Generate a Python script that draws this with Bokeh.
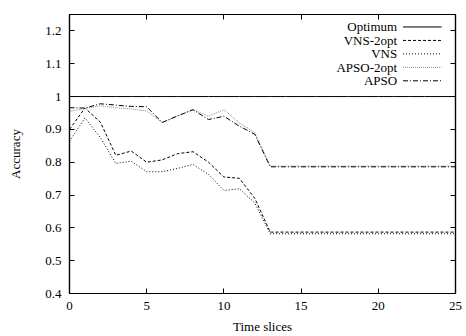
from bokeh.plotting import figure
from bokeh.models import Range1d, LinearAxis, FixedTicker, Label, Arrow
from bokeh.embed import file_html
from bokeh.resources import INLINE

# ---- data ----
time_slices = list(range(26))
optimum = [1.0, 1.0, 1.0, 1.0, 1.0, 1.0, 1.0, 1.0, 1.0, 1.0, 1.0, 1.0, 1.0,
           1.0, 1.0, 1.0, 1.0, 1.0, 1.0, 1.0, 1.0, 1.0, 1.0, 1.0, 1.0, 1.0]
vns_2opt = [0.900, 0.965, 0.922, 0.821, 0.834, 0.800, 0.807, 0.826, 0.832, 0.800,
            0.755, 0.751, 0.690, 0.587, 0.587, 0.587, 0.587, 0.587, 0.587, 0.587,
            0.587, 0.587, 0.587, 0.587, 0.587, 0.587]
vns = [0.864, 0.935, 0.875, 0.796, 0.803, 0.771, 0.771, 0.781, 0.793, 0.763,
       0.714, 0.719, 0.676, 0.582, 0.582, 0.582, 0.582, 0.582, 0.582, 0.582,
       0.582, 0.582, 0.582, 0.582, 0.582, 0.582]
apso_2opt = [0.955, 0.963, 0.972, 0.966, 0.962, 0.956, 0.921, 0.941, 0.960, 0.940,
             0.960, 0.920, 0.890, 0.788, 0.788, 0.788, 0.788, 0.788, 0.788, 0.788,
             0.788, 0.788, 0.788, 0.788, 0.788, 0.788]
apso = [0.966, 0.965, 0.978, 0.974, 0.970, 0.969, 0.921, 0.941, 0.960, 0.930,
        0.940, 0.910, 0.885, 0.786, 0.786, 0.786, 0.786, 0.786, 0.786, 0.786,
        0.786, 0.786, 0.786, 0.786, 0.786, 0.786]
series_names = ["Optimum", "VNS-2opt", "VNS", "APSO-2opt", "APSO"]
x_ticks = [0, 5, 10, 15, 20, 25]
y_ticks = [0.4, 0.5, 0.6, 0.7, 0.8, 0.9, 1.0, 1.1, 1.2]
y_tick_labels = {0.4: "0.4", 0.5: "0.5", 0.6: "0.6", 0.7: "0.7", 0.8: "0.8",
                 0.9: "0.9", 1.0: "1", 1.1: "1.1", 1.2: "1.2"}

FONT = "Liberation Serif"
FS = "13px"

p = figure(width=466, height=336, output_backend="svg", toolbar_location=None,
           x_range=Range1d(0, 25), y_range=Range1d(0.4, 1.25),
           min_border_left=69, min_border_right=11, min_border_top=14,
           min_border_bottom=41, background_fill_color="white",
           border_fill_color="white", outline_line_color="black",
           outline_line_width=1.2)
p.grid.visible = False

styles = [
    dict(color="black", dash="solid"),
    dict(color="black", dash="3 2"),
    dict(color="black", dash="1 2"),
    dict(color="#8c8c8c", dash="1 1"),
    dict(color="black", dash="5 2 1 2"),
]
series = [optimum, vns_2opt, vns, apso_2opt, apso]
for ys, st in zip(series, styles):
    p.line(time_slices, ys, line_color=st["color"], line_dash=st["dash"], line_width=1)

def style_axis(ax):
    ax.major_tick_in = 5
    ax.major_tick_out = 0
    ax.minor_tick_line_color = None
    ax.axis_line_color = "black"
    ax.axis_line_width = 1.2
    ax.major_tick_line_width = 1
    ax.major_label_text_font = FONT
    ax.major_label_text_font_size = FS
    ax.major_label_text_color = "black"
    ax.axis_label_text_font = FONT
    ax.axis_label_text_font_size = FS
    ax.axis_label_text_font_style = "normal"
    ax.axis_label_text_color = "black"

def mirror_axis(ticks):
    # ticks drawn as minor ticks so that no labels are emitted
    ax = LinearAxis(ticker=FixedTicker(ticks=[], minor_ticks=ticks))
    ax.major_tick_line_color = None
    ax.minor_tick_in = 5
    ax.minor_tick_out = 0
    ax.minor_tick_line_color = "black"
    ax.minor_tick_line_width = 1
    ax.axis_line_color = "black"
    ax.axis_line_width = 1.2
    ax.major_label_standoff = 0
    return ax

xa = p.xaxis[0]
xa.ticker = FixedTicker(ticks=x_ticks)
xa.axis_label = "Time slices"
style_axis(xa)
xa.major_label_standoff = 8
xa.axis_label_standoff = 6

ya = p.yaxis[0]
ya.ticker = FixedTicker(ticks=y_ticks)
ya.major_label_overrides = y_tick_labels
ya.axis_label = "Accuracy"
style_axis(ya)
ya.major_label_standoff = 8
ya.axis_label_standoff = 19

p.add_layout(mirror_axis(x_ticks), "above")
p.add_layout(mirror_axis(y_ticks), "right")

# legend (text right-aligned, sample to the right, gnuplot style)
leg_y = [1.212, 1.171, 1.130, 1.089, 1.048]
for name, yy, st in zip(series_names, leg_y, styles):
    p.add_layout(Label(x=21.22, y=yy, text=name, text_align="right",
                       text_baseline="middle", text_font=FONT,
                       text_font_size=FS, text_color="black"))
    p.add_layout(Arrow(end=None, x_start=21.6, y_start=yy, x_end=24.1, y_end=yy,
                       line_color=st["color"], line_dash=st["dash"], line_width=1))

open("out.html", "w").write(file_html(p, INLINE))
